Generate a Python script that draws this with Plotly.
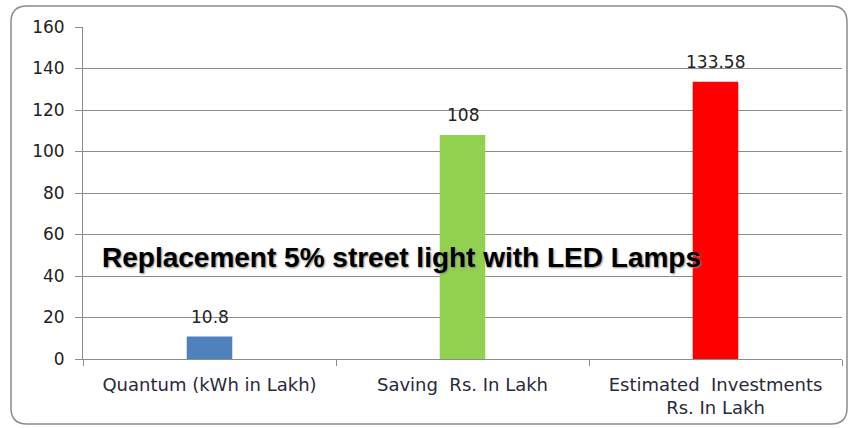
import plotly.graph_objects as go

categories = ["Quantum (kWh in Lakh)", "Saving\u00a0 Rs. In Lakh", "Estimated\u00a0 Investments<br>Rs. In Lakh"]
values = [10.8, 108, 133.58]
value_labels = ["10.8", "108", "133.58"]
bar_colors = ["#4f81bd", "#92d050", "#ff0000"]
y_ticks = [0, 20, 40, 60, 80, 100, 120, 140, 160]
title_text = "Replacement 5% street light with LED Lamps"

W, H = 856, 428
ml, mr, mt, mb = 83, 14, 27, 69
pw, ph = W - ml - mr, H - mt - mb

def px(x):
    return (x - ml) / pw

def py(y):
    return 1 - (y - mt) / ph

fig = go.Figure()
fig.add_trace(go.Bar(
    x=categories, y=values, marker=dict(color=bar_colors, line=dict(width=0)),
    width=0.18, hoverinfo="skip",
))

for c, v, t in zip(categories, values, value_labels):
    fig.add_annotation(
        x=c, y=v, text=t, showarrow=False, yanchor="bottom", yshift=8,
        font=dict(family="DejaVu Sans", size=17, color="#222222"),
    )

# rounded border around chart
x0, x1, y0, y1, r = 11, 847, 6, 424, 16
path = (f"M {px(x0+r)},{py(y0)} L {px(x1-r)},{py(y0)} "
        f"Q {px(x1)},{py(y0)} {px(x1)},{py(y0+r)} "
        f"L {px(x1)},{py(y1-r)} Q {px(x1)},{py(y1)} {px(x1-r)},{py(y1)} "
        f"L {px(x0+r)},{py(y1)} Q {px(x0)},{py(y1)} {px(x0)},{py(y1-r)} "
        f"L {px(x0)},{py(y0+r)} Q {px(x0)},{py(y0)} {px(x0+r)},{py(y0)} Z")
fig.add_shape(type="path", path=path, xref="paper", yref="paper",
              line=dict(color="#8c8c8c", width=1.5), layer="below")

fig.add_annotation(
    text=title_text, xref="paper", yref="paper", x=px(100), y=py(257),
    xanchor="left", yanchor="middle", showarrow=False,
    font=dict(family="Liberation Sans", size=28, color="#000000", weight="bold",
              shadow="1px 1px 2px #888888"),
)

fig.update_layout(
    width=W, height=H, margin=dict(l=ml, r=mr, t=mt, b=mb),
    paper_bgcolor="white", plot_bgcolor="white", showlegend=False,
)
fig.update_xaxes(
    type="category", showline=True, linecolor="#8c8c8c", linewidth=1,
    ticks="outside", tickson="boundaries", ticklen=6, tickcolor="#8c8c8c",
    tickfont=dict(family="DejaVu Sans", size=18, color="#2a2a3a"),
    ticklabelstandoff=9, showgrid=False, automargin=False,
)
fig.update_yaxes(
    range=[0, 160], tickvals=y_ticks, showline=True, linecolor="#8c8c8c", linewidth=1,
    ticks="outside", ticklen=7, tickcolor="#8c8c8c",
    tickfont=dict(family="DejaVu Sans", size=17, color="#222222"),
    ticklabelstandoff=7, showgrid=True, gridcolor="#8c8c8c", gridwidth=1,
    zeroline=False, automargin=False,
)

fig.write_html("out.html", config={"displayModeBar": False},
               post_script="document.body.style.margin='0';")
